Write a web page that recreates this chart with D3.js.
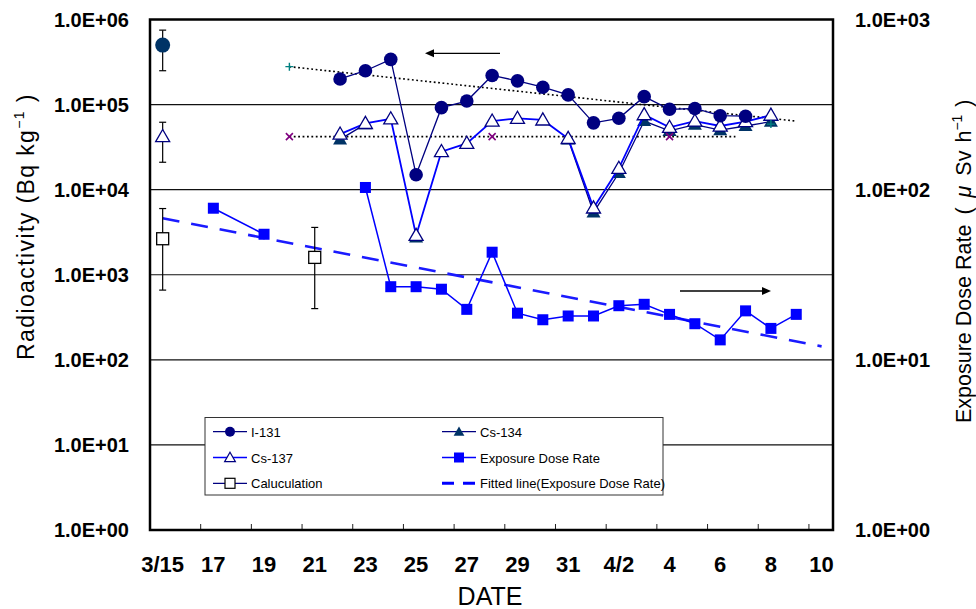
<!DOCTYPE html>
<html><head><meta charset="utf-8">
<script src="https://cdn.jsdelivr.net/npm/d3@7"></script>
<style>body{margin:0;background:#fff}</style>
</head><body>
<svg id="chart" width="976" height="609"></svg>
<script>
// ---------- data ----------
const tickLabelDates = ["3/15","3/17","3/19","3/21","3/23","3/25","3/27","3/29","3/31","4/2","4/4","4/6","4/8","4/10"];
const tickLabels = ["3/15","17","19","21","23","25","27","29","31","4/2","4","6","8","10"];
const yLeftTicks = [1,10,100,1000,10000,100000,1000000];
const yRightTicks = [1,10,100,1000];

const seriesDates = ["3/22","3/23","3/24","3/25","3/26","3/27","3/28","3/29","3/30","3/31","4/1","4/2","4/3","4/4","4/5","4/6","4/7","4/8"];
const i131 = [2.0e5,2.5e5,3.4e5,1.5e4,9.2e4,1.1e5,2.2e5,1.9e5,1.6e5,1.3e5,6.1e4,6.9e4,1.24e5,8.8e4,9.0e4,7.4e4,7.3e4,null];
const cs137 = [4.5e4,6.0e4,6.8e4,2.9e3,2.8e4,3.5e4,6.4e4,6.9e4,6.6e4,4.0e4,6.1e3,1.78e4,7.6e4,5.4e4,6.4e4,5.6e4,6.3e4,7.5e4];
const cs134 = [3.9e4,5.9e4,null,2.75e3,null,null,null,null,null,3.9e4,5.4e3,1.57e4,6.4e4,4.9e4,5.8e4,5.0e4,5.6e4,6.3e4];

const doseDates = ["3/17","3/19","3/20","3/21","3/22","3/23","3/24","3/25","3/26","3/27","3/28","3/29","3/30","3/31","4/1","4/2","4/3","4/4","4/5","4/6","4/7","4/8","4/9"];
const doseValues = [77.8,54.7,null,null,null,103,26.9,26.9,26.0,19.8,42.9,18.8,17.2,18.1,18.1,20.8,21.2,18.5,16.3,13.1,19.4,15.3,18.5];
const doseFitDates = ["3/15","4/10"];
const doseFitValues = [67.9,12.0];

const calcDates = ["3/15","3/21"];
const calcValues = [2.65e3,1.6e3];
const calcHigh = [6.0e3,3.6e3];
const calcLow = [6.6e2,4.0e2];

const i131RefDates = ["3/15"];
const i131RefValues = [5.0e5];
const i131RefHigh = [7.5e5];
const i131RefLow = [2.5e5];
const cs137RefDates = ["3/15"];
const cs137RefValues = [4.2e4];
const cs137RefHigh = [6.2e4];
const cs137RefLow = [2.1e4];

const i131TrendDates = ["3/20","4/9"];
const i131TrendValues = [2.79e5,6.4e4];
const cs137TrendDates = ["3/20","4/6.6"];
const cs137TrendValues = [4.2e4,4.2e4];
const plusDates = ["3/20","4/8"];
const plusValues = [2.79e5,5.9e4];
const crossDates = ["3/20","3/28","4/4"];
const crossValues = [4.2e4,4.2e4,4.2e4];

// ---------- helpers ----------
const parseDate = s => { const [m,d] = s.split("/").map(Number); return new Date(Date.UTC(2011, m-1, 1) + (d-1)*864e5); };
const svg = d3.select("#chart");
const L = 150, R = 833, T = 19.5, B = 530;
const x = d3.scaleUtc().domain([parseDate("3/14.5"), parseDate("4/10.45")]).range([L, R]);
const yL = d3.scaleLog().domain([1, 1e6]).range([B, T]);
const yR = d3.scaleLog().domain([1, 1e3]).range([B, T]);
const zip = (dates, vals) => dates.map((d,i) => ({x: parseDate(d), v: vals[i]}));
const fmtE = d => d3.format(".1e")(d).replace("e", "E").replace(/E([+-])(\d)$/, "E$10$2");
const FONT = "Liberation Sans, Arial, sans-serif";

// gridlines
svg.append("g").selectAll("line").data(yLeftTicks.slice(1,-1)).join("line")
  .attr("x1", L).attr("x2", R).attr("y1", d => yL(d)).attr("y2", d => yL(d))
  .attr("stroke", "#111").attr("stroke-width", 1.2);

// x tick marks (inside)
const tickDates = d3.range(0, 14).map(k => new Date(parseDate("3/14.5").getTime() + k*2*864e5));
svg.append("g").selectAll("line").data(tickDates.slice(1)).join("line")
  .attr("x1", d => x(d)).attr("x2", d => x(d)).attr("y1", B).attr("y2", B-6)
  .attr("stroke", "#222").attr("stroke-width", 1);

// axis tick labels
svg.append("g").selectAll("text").data(yLeftTicks).join("text")
  .attr("x", 129).attr("y", d => yL(d)).attr("dy", "0.36em").attr("text-anchor", "end")
  .attr("font-family", FONT).attr("font-weight", "bold").attr("font-size", 20)
  .text(fmtE);
svg.append("g").selectAll("text").data(yRightTicks).join("text")
  .attr("x", 855).attr("y", d => yR(d)).attr("dy", "0.36em").attr("text-anchor", "start")
  .attr("font-family", FONT).attr("font-weight", "bold").attr("font-size", 20)
  .text(fmtE);
svg.append("g").selectAll("text").data(tickLabelDates).join("text")
  .attr("x", d => x(parseDate(d))).attr("y", 572).attr("text-anchor", "middle")
  .attr("font-family", FONT).attr("font-weight", "bold").attr("font-size", 22)
  .text((d,i) => tickLabels[i]);

// axis titles
svg.append("text").attr("x", 490).attr("y", 605).attr("text-anchor", "middle")
  .attr("font-family", FONT).attr("font-size", 25).text("DATE");
const lt = svg.append("text").attr("transform", "translate(34,0) rotate(-90)").attr("text-anchor", "start")
  .attr("font-family", FONT).attr("font-size", 23).attr("letter-spacing", 1.4);
lt.append("tspan").attr("x", -360).text("Radioactivity (Bq kg");
lt.append("tspan").attr("dy", -10).attr("font-size", 14).text("−1");
lt.append("tspan").attr("dy", 10).text(" )");
const rt = svg.append("text").attr("transform", "translate(971,0) rotate(-90)").attr("text-anchor", "start")
  .attr("font-family", FONT).attr("font-size", 21.5);
rt.append("tspan").attr("x", -423).text("Exposure Dose Rate");
rt.append("tspan").attr("dx", 10).text("(");
rt.append("tspan").attr("dx", 10).attr("font-style", "italic").text("μ");
rt.append("tspan").attr("dx", 10).text("Sv");
rt.append("tspan").attr("dx", 8).text("h");
rt.append("tspan").attr("dy", -9).attr("font-size", 14).text("−1");
rt.append("tspan").attr("dx", 8).attr("dy", 9).text(")");

// ---------- marks ----------
const g = svg.append("g");
const lineGen = (ys) => d3.line().defined(d => d.v != null).x(d => x(d.x)).y(d => ys(d.v));

// fitted dose line
g.append("path").datum(zip(doseFitDates, doseFitValues)).attr("d", lineGen(yR))
  .attr("fill", "none").attr("stroke", "#1a1aff").attr("stroke-width", 2.6).attr("stroke-dasharray", "17,12");

// trend lines
g.append("path").datum(zip(i131TrendDates, i131TrendValues)).attr("d", lineGen(yL))
  .attr("fill", "none").attr("stroke", "#000").attr("stroke-width", 1.6).attr("stroke-dasharray", "1.8,2.6");
g.append("path").datum(zip(cs137TrendDates, cs137TrendValues)).attr("d", lineGen(yL))
  .attr("fill", "none").attr("stroke", "#000").attr("stroke-width", 1.6).attr("stroke-dasharray", "1.8,2.6");

// error bars
function errBars(dates, lo, hi) {
  dates.forEach((d,i) => {
    const cx = x(parseDate(d));
    g.append("line").attr("x1", cx).attr("x2", cx).attr("y1", yL(hi[i])).attr("y2", yL(lo[i])).attr("stroke", "#000").attr("stroke-width", 1.2);
    [hi[i], lo[i]].forEach(v => g.append("line").attr("x1", cx-3.5).attr("x2", cx+3.5).attr("y1", yL(v)).attr("y2", yL(v)).attr("stroke", "#000").attr("stroke-width", 1.2));
  });
}
errBars(calcDates, calcLow, calcHigh);
errBars(i131RefDates, i131RefLow, i131RefHigh);
errBars(cs137RefDates, cs137RefLow, cs137RefHigh);

// exposure dose rate
const doseData = zip(doseDates, doseValues);
g.append("path").datum(doseData).attr("d", lineGen(yR)).attr("fill", "none").attr("stroke", "#0000ff").attr("stroke-width", 1.5);
g.append("g").selectAll("rect").data(doseData.filter(d => d.v != null)).join("rect")
  .attr("x", d => x(d.x)-5.5).attr("y", d => yR(d.v)-5.5).attr("width", 11).attr("height", 11).attr("fill", "#0000ff");

// calculation squares
g.append("g").selectAll("rect").data(zip(calcDates, calcValues)).join("rect")
  .attr("x", d => x(d.x)-6).attr("y", d => yL(d.v)-6).attr("width", 12).attr("height", 12)
  .attr("fill", "#fff").attr("stroke", "#000").attr("stroke-width", 1.3);

const tri = d3.symbol().type(d3.symbolTriangle).size(85);
// Cs-134
const cs134Data = zip(seriesDates, cs134);
g.append("path").datum(cs134Data).attr("d", lineGen(yL)).attr("fill", "none").attr("stroke", "#000080").attr("stroke-width", 1.3);
g.append("g").selectAll("path").data(cs134Data.filter(d => d.v != null)).join("path")
  .attr("transform", d => `translate(${x(d.x)},${yL(d.v)+1})`).attr("d", tri).attr("fill", "#003366");
// Cs-137
const cs137Data = zip(seriesDates, cs137);
g.append("path").datum(cs137Data).attr("d", lineGen(yL)).attr("fill", "none").attr("stroke", "#0000ff").attr("stroke-width", 1.8);
g.append("g").selectAll("path").data(cs137Data.concat(zip(cs137RefDates, cs137RefValues))).join("path")
  .attr("transform", d => `translate(${x(d.x)},${yL(d.v)+1})`).attr("d", tri).attr("fill", "#fff").attr("stroke", "#000080").attr("stroke-width", 1.3);
// I-131
const i131Data = zip(seriesDates, i131);
g.append("path").datum(i131Data).attr("d", lineGen(yL)).attr("fill", "none").attr("stroke", "#000080").attr("stroke-width", 1.3);
g.append("g").selectAll("circle").data(i131Data.filter(d => d.v != null)).join("circle")
  .attr("cx", d => x(d.x)).attr("cy", d => yL(d.v)).attr("r", 6.8).attr("fill", "#000080");
g.append("g").selectAll("circle").data(zip(i131RefDates, i131RefValues)).join("circle")
  .attr("cx", d => x(d.x)).attr("cy", d => yL(d.v)).attr("r", 7.5).attr("fill", "#003366");

// + and x markers
g.append("g").selectAll("path").data(zip(plusDates, plusValues)).join("path")
  .attr("d", d => { const cx = x(d.x), cy = yL(d.v); return `M${cx-4},${cy}H${cx+4}M${cx},${cy-4}V${cy+4}`; })
  .attr("stroke", "#008080").attr("stroke-width", 1.4);
g.append("g").selectAll("path").data(zip(crossDates, crossValues)).join("path")
  .attr("d", d => { const cx = x(d.x), cy = yL(d.v); return `M${cx-3.5},${cy-3.5}L${cx+3.5},${cy+3.5}M${cx+3.5},${cy-3.5}L${cx-3.5},${cy+3.5}`; })
  .attr("stroke", "#800080").attr("stroke-width", 1.6);

// arrows
function arrow(x1, x2, yy) {
  const dir = Math.sign(x2 - x1);
  svg.append("line").attr("x1", x1).attr("x2", x2 - dir*8).attr("y1", yy).attr("y2", yy).attr("stroke", "#000").attr("stroke-width", 1.3);
  svg.append("path").attr("d", `M${x2},${yy}L${x2-dir*9},${yy-4}L${x2-dir*9},${yy+4}Z`).attr("fill", "#000");
}
arrow(500, 425, 53.3);
arrow(680, 771, 291);

// plot border
svg.append("rect").attr("x", L).attr("y", T).attr("width", R-L).attr("height", B-T)
  .attr("fill", "none").attr("stroke", "#000").attr("stroke-width", 2.5);

// legend
const lg = svg.append("g");
lg.append("rect").attr("x", 205).attr("y", 417.5).attr("width", 458).attr("height", 77.5)
  .attr("fill", "#fff").attr("stroke", "#333").attr("stroke-width", 1);
const legendItems = [
  {name:"I-131", col:0, row:0, line:"#000080", mk:"circle"},
  {name:"Cs-134", col:1, row:0, line:"#000080", mk:"tri-fill"},
  {name:"Cs-137", col:0, row:1, line:"#0000ff", mk:"tri-open"},
  {name:"Exposure Dose Rate", col:1, row:1, line:"#0000ff", mk:"square"},
  {name:"Caluculation", col:0, row:2, line:"#000080", mk:"square-open"},
  {name:"Fitted line(Exposure Dose Rate)", col:1, row:2, line:"#0000ff", mk:"dash"}
];
legendItems.forEach(it => {
  const x0 = it.col === 0 ? 213 : 442, yy = 431.7 + it.row*25.8, xm = x0 + 17;
  if (it.mk === "dash") {
    lg.append("line").attr("x1", x0).attr("x2", x0+34).attr("y1", yy).attr("y2", yy)
      .attr("stroke", "#0000ff").attr("stroke-width", 3).attr("stroke-dasharray", "12,9");
  } else {
    lg.append("line").attr("x1", x0).attr("x2", x0+34).attr("y1", yy).attr("y2", yy).attr("stroke", it.line).attr("stroke-width", 1.3);
  }
  if (it.mk === "circle") lg.append("circle").attr("cx", xm).attr("cy", yy).attr("r", 5).attr("fill", "#000080");
  if (it.mk === "tri-fill") lg.append("path").attr("transform", `translate(${xm},${yy+1})`).attr("d", d3.symbol().type(d3.symbolTriangle).size(50)).attr("fill", "#003366");
  if (it.mk === "tri-open") lg.append("path").attr("transform", `translate(${xm},${yy+1})`).attr("d", d3.symbol().type(d3.symbolTriangle).size(50)).attr("fill", "#fff").attr("stroke", "#000080").attr("stroke-width", 1.2);
  if (it.mk === "square") lg.append("rect").attr("x", xm-5).attr("y", yy-5).attr("width", 10).attr("height", 10).attr("fill", "#0000ff");
  if (it.mk === "square-open") lg.append("rect").attr("x", xm-5).attr("y", yy-5).attr("width", 10).attr("height", 10).attr("fill", "#fff").attr("stroke", "#000").attr("stroke-width", 1.2);
  lg.append("text").attr("x", x0 + 38).attr("y", yy + 5).attr("font-family", FONT).attr("font-size", 13).text(it.name);
});
</script>
</body></html>
